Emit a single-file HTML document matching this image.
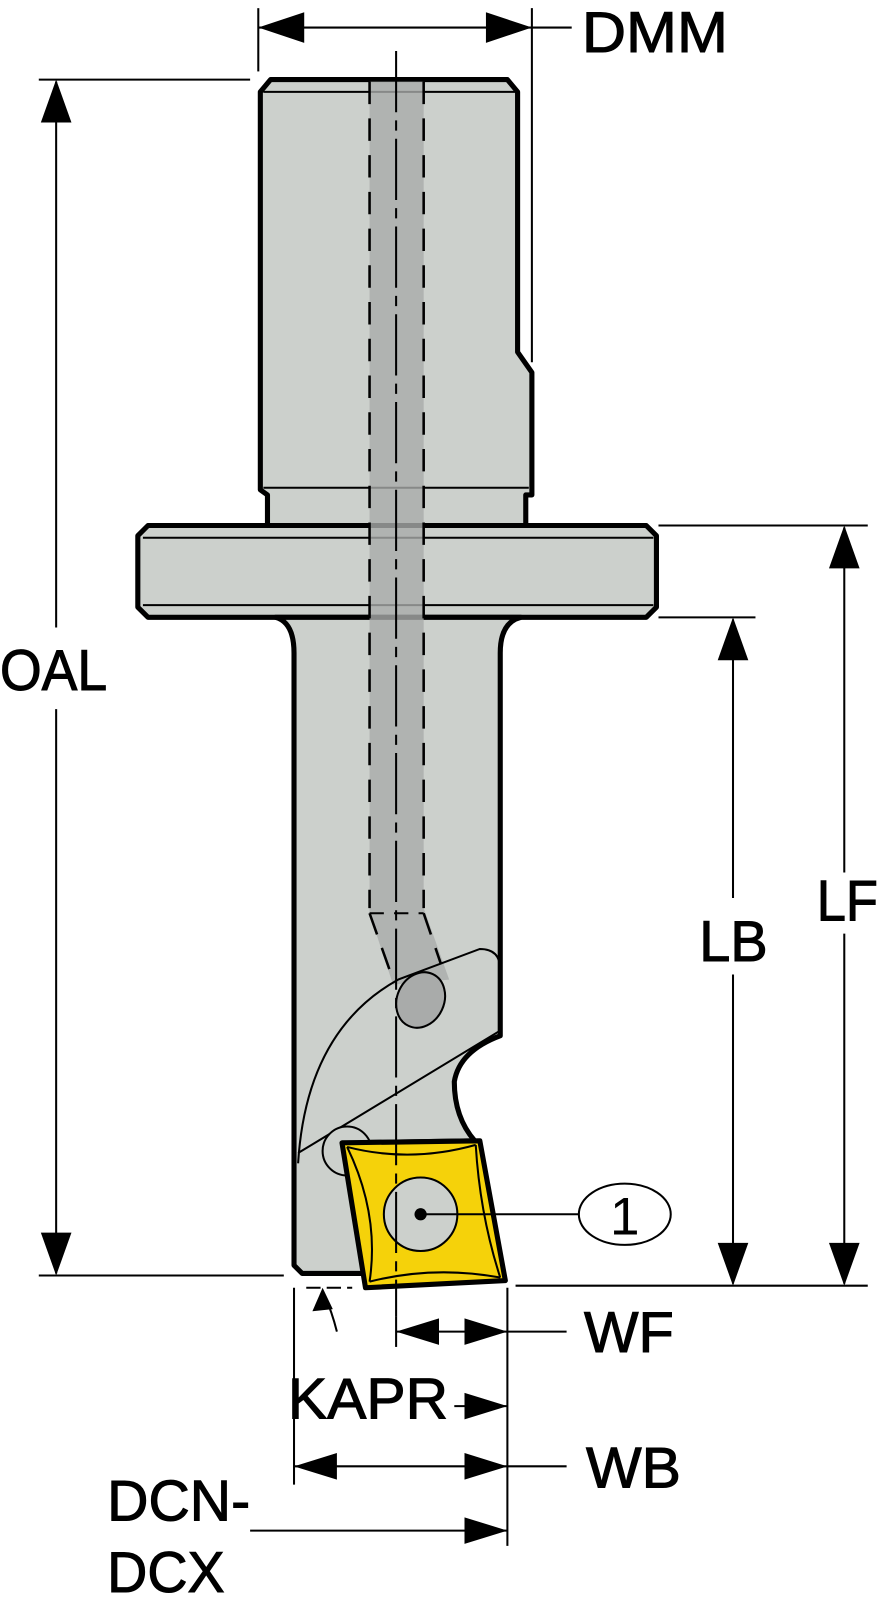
<!DOCTYPE html>
<html><head><meta charset="utf-8"><style>html,body{margin:0;padding:0;background:#fff}svg{display:block}</style></head>
<body>
<svg width="880" height="1600" viewBox="0 0 880 1600" xmlns="http://www.w3.org/2000/svg">
<g transform="scale(1.0209,1.0204)" font-family="Liberation Sans, sans-serif" font-size="56" fill="#000">
<!-- body -->
<g stroke="#000" stroke-width="5" stroke-linejoin="round" fill="#ccd0cc">
<path d="M255,90 L265,78 L497,78 L507,90 L507,345 L521,365 L521,485 L515,485 L515,515 L262,515 L262,485 L255,480 Z"/>
<path d="M145,515 L633,515 L643,525 L643,595 L633,605 L145,605 L135,595 L135,525 Z"/>
<path d="M270,605 Q288,610 288,640 L288,1240 L296,1248 L360,1248 L335,1120 L465,1118 Q445,1095 445,1060 Q450,1030 490,1015 L490,640 Q490,610 510,605 Z"/>
</g>
<g stroke="#000" stroke-width="2" fill="none">
<line x1="258" y1="90" x2="505" y2="90"/>
<line x1="258" y1="478" x2="518" y2="478"/>
<line x1="140" y1="527" x2="640" y2="527"/>
<line x1="140" y1="593" x2="640" y2="593"/>
</g>
<!-- coolant channel -->
<path d="M362,80 L415,80 L415,890 L440,960 L385,965 L362,895 Z" fill="#a9abaa" opacity="0.8"/>
<g stroke="#000" stroke-width="2.5" fill="none" stroke-dasharray="22,14">
<line x1="362" y1="80" x2="362" y2="890"/>
<line x1="415" y1="80" x2="415" y2="890"/>
<path d="M362,895 L385,960"/>
<path d="M415,895 L432,945"/>
</g>
<line x1="362" y1="895" x2="415" y2="895" stroke="#000" stroke-width="2" stroke-dasharray="14,10"/>
<!-- clamp -->
<g stroke="#000" stroke-width="2" fill="none">
<path d="M292,1140 Q300,1010 390,960 L470,930 Q490,930 490,950 L490,1010 L292,1130"/>
</g>
<ellipse cx="412" cy="980" rx="23" ry="28" transform="rotate(25 412 980)" fill="#a9abaa" stroke="#000" stroke-width="2"/>
<circle cx="340" cy="1128" r="24" fill="#ccd0cc" stroke="#000" stroke-width="2"/>
<!-- insert -->
<path d="M335,1120 L470,1118 L495,1255 L358,1262 Z" fill="#f5d20a" stroke="#000" stroke-width="5" stroke-linejoin="round"/>
<g stroke="#000" stroke-width="2" fill="none">
<path d="M340,1124 Q402,1140 466,1122"/>
<path d="M362,1256 Q425,1240 490,1252"/>
<path d="M340,1124 Q372,1190 362,1256"/>
<path d="M466,1122 Q470,1190 490,1252"/>
</g>
<circle cx="412" cy="1190" r="36" fill="#ccd0cc" stroke="#000" stroke-width="2"/>
<!-- centerline -->
<line x1="388" y1="50" x2="388" y2="1290" stroke="#000" stroke-width="2" stroke-dasharray="60,8,10,8"/>
<!-- callout -->
<circle cx="412" cy="1190" r="6"/>
<line x1="412" y1="1190" x2="567" y2="1190" stroke="#000" stroke-width="2"/>
<ellipse cx="612" cy="1190" rx="45" ry="30" fill="#fff" stroke="#000" stroke-width="2"/>
<text x="612" y="1210" text-anchor="middle" font-size="52">1</text>
<!-- dimension lines -->
<g stroke="#000" stroke-width="2" fill="none">
<line x1="253" y1="8" x2="253" y2="70"/>
<line x1="521" y1="8" x2="521" y2="355"/>
<line x1="253" y1="27" x2="560" y2="27"/>
<line x1="38" y1="78" x2="245" y2="78"/>
<line x1="38" y1="1250" x2="278" y2="1250"/>
<line x1="55" y1="80" x2="55" y2="615"/>
<line x1="55" y1="695" x2="55" y2="1248"/>
<line x1="645" y1="515" x2="850" y2="515"/>
<line x1="645" y1="605" x2="740" y2="605"/>
<line x1="505" y1="1260" x2="850" y2="1260"/>
<line x1="718" y1="607" x2="718" y2="880"/>
<line x1="718" y1="955" x2="718" y2="1258"/>
<line x1="827" y1="517" x2="827" y2="855"/>
<line x1="827" y1="915" x2="827" y2="1258"/>
<line x1="288" y1="1262" x2="288" y2="1455"/>
<line x1="497" y1="1262" x2="497" y2="1515"/>
<line x1="388" y1="1290" x2="388" y2="1320"/>
<line x1="388" y1="1305" x2="555" y2="1305"/>
<line x1="445" y1="1378" x2="497" y2="1378"/>
<line x1="288" y1="1437" x2="555" y2="1437"/>
<line x1="245" y1="1500" x2="497" y2="1500"/>
<line x1="300" y1="1262" x2="345" y2="1262" stroke-dasharray="14,6"/>
<path d="M330,1305 Q325,1285 318,1270"/>
</g>
<g>
<path d="M253,27 L298,12 L298,42 Z"/><path d="M521,27 L476,12 L476,42 Z"/>
<path d="M55,78 L40,120 L70,120 Z"/><path d="M55,1250 L40,1208 L70,1208 Z"/>
<path d="M718,605 L703,647 L733,647 Z"/><path d="M718,1260 L703,1218 L733,1218 Z"/>
<path d="M827,515 L812,557 L842,557 Z"/><path d="M827,1260 L812,1218 L842,1218 Z"/>
<path d="M388,1305 L430,1292 L430,1318 Z"/><path d="M497,1305 L455,1292 L455,1318 Z"/>
<path d="M497,1378 L455,1365 L455,1391 Z"/>
<path d="M288,1437 L330,1424 L330,1450 Z"/><path d="M497,1437 L455,1424 L455,1450 Z"/>
<path d="M497,1500 L455,1487 L455,1513 Z"/>
<path d="M316,1262 L306,1285 L326,1283 Z"/>
</g>
<g stroke="#000" stroke-width="1">
<text x="570" y="51" textLength="143" lengthAdjust="spacingAndGlyphs">DMM</text>
<text x="0" y="676" textLength="105" lengthAdjust="spacingAndGlyphs">OAL</text>
<text x="685" y="942" textLength="67" lengthAdjust="spacingAndGlyphs">LB</text>
<text x="800" y="902" textLength="60" lengthAdjust="spacingAndGlyphs">LF</text>
<text x="572" y="1325" textLength="88" lengthAdjust="spacingAndGlyphs">WF</text>
<text x="282" y="1390" textLength="157" lengthAdjust="spacingAndGlyphs">KAPR</text>
<text x="574" y="1458" textLength="93" lengthAdjust="spacingAndGlyphs">WB</text>
<text x="105" y="1490" textLength="140" lengthAdjust="spacingAndGlyphs">DCN-</text>
<text x="105" y="1560" textLength="115" lengthAdjust="spacingAndGlyphs">DCX</text>
</g>
</g>
</svg>
</body></html>
